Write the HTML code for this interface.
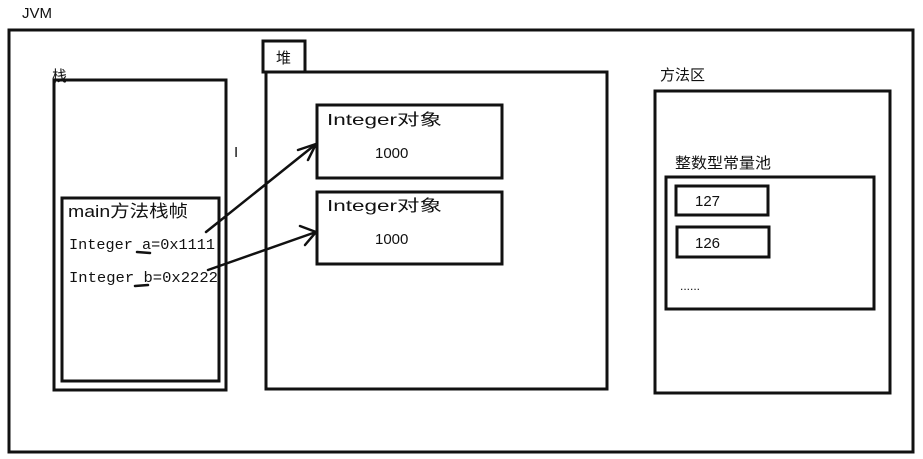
<!DOCTYPE html>
<html><head><meta charset="utf-8"><style>
html,body{margin:0;padding:0;background:#fff;}
svg{display:block;}
text{font-family:"Liberation Sans","Noto Sans CJK SC",sans-serif;fill:#111;}
.m{font-family:"Liberation Mono","DejaVu Sans Mono",monospace;}
</style></head><body>
<svg width="923" height="459" viewBox="0 0 923 459" xmlns="http://www.w3.org/2000/svg">
<rect width="923" height="459" fill="#fff"/>
<g fill="none" stroke="#111" stroke-width="3">
<rect x="9" y="30" width="904" height="422"/>
<rect x="54" y="80" width="172" height="310"/>
<rect x="62" y="198" width="157" height="183"/>
<rect x="263" y="41" width="42" height="31"/>
<rect x="266" y="72" width="341" height="317"/>
<rect x="317" y="105" width="185" height="73"/>
<rect x="317" y="192" width="185" height="72"/>
<rect x="655" y="91" width="235" height="302"/>
<rect x="666" y="177" width="208" height="132"/>
<rect x="676" y="186" width="92" height="29"/>
<rect x="677" y="227" width="92" height="30"/>
</g>
<g fill="none" stroke="#111" stroke-width="2.5" stroke-linecap="round">
<path d="M206 232 L316 144"/><path d="M298 150 L316 144 L308 160"/>
<path d="M208 270 L316 232"/><path d="M300 226 L316 232 L305 245"/>
<path d="M137 252 L150 253"/><path d="M135 286 L148 285"/>
</g>
<text x="22" y="18" font-size="15">JVM</text>
<text x="52" y="81" font-size="15">栈</text>
<text x="276" y="63" font-size="15">堆</text>
<text x="68" y="217" font-size="17" textLength="120" lengthAdjust="spacingAndGlyphs">main方法栈帧</text>
<text class="m" x="69" y="249" font-size="15" textLength="146" lengthAdjust="spacingAndGlyphs">Integer a=0x1111</text>
<text class="m" x="69" y="282" font-size="15" textLength="149" lengthAdjust="spacingAndGlyphs">Integer b=0x2222</text>
<text x="327" y="125" font-size="16" textLength="115" lengthAdjust="spacingAndGlyphs">Integer对象</text>
<text x="375" y="158" font-size="15">1000</text>
<text x="327" y="211" font-size="16" textLength="115" lengthAdjust="spacingAndGlyphs">Integer对象</text>
<text x="375" y="244" font-size="15">1000</text>
<text x="660" y="80" font-size="15">方法区</text>
<text x="675" y="168" font-size="15" textLength="96" lengthAdjust="spacingAndGlyphs">整数型常量池</text>
<text x="695" y="206" font-size="15">127</text>
<text x="695" y="248" font-size="15">126</text>
<text x="680" y="290" font-size="12">......</text>
<text x="234" y="157" font-size="15" fill="#666" font-family="Liberation Serif,serif">I</text>
</svg>
</body></html>
